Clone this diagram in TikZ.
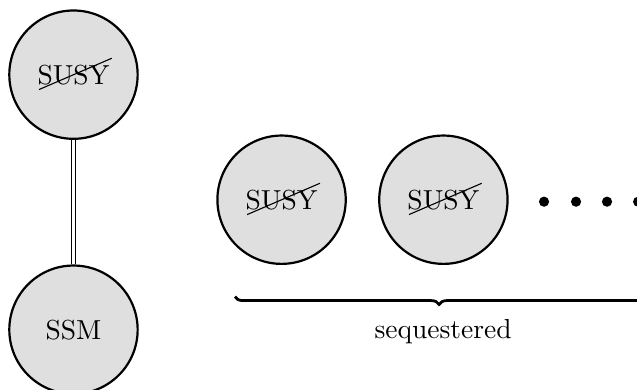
\documentclass[tikz,border=0pt]{standalone}
\usepackage{amsmath}
\usepackage{tikz}
\usetikzlibrary{positioning, calc, decorations.pathreplacing}

\tikzset{
    sector/.style={circle, draw, thick, fill=gray!25, minimum size=1.64cm, inner sep=0pt},
    slashline/.style={thin},
    dot/.style={circle, fill, inner sep=0pt, minimum size=0.13cm}
}

\begin{document}
\begin{tikzpicture}[node distance=0.4cm]
        \useasboundingbox (0,0) rectangle (8.14,4.98);

        % Nodes
        \node[sector] (top) at (0.939,4.026) {SUSY};
        \node[sector] (ssm) at (0.939,0.767) {SSM};
        \node[sector] (seqA) at (3.598,2.428) {SUSY};
        \node[sector, right=of seqA] (seqB) {SUSY};

        % broken susy slashes
        \foreach \n in {top, seqA, seqB}
            \draw[slashline] ($(\n.center)+(-0.44,-0.19)$) -- ($(\n.center)+(0.49,0.21)$);

        % dots
        \foreach \i/\x in {1/6.952, 2/7.361, 3/7.757, 4/8.154}
            \node[dot] (d\i) at (\x,2.403) {};

        \draw[double, double distance=1.2pt, line width=0.4pt] (top) -- (ssm);

        % brace
        \coordinate (bl) at (3.003,1.189);
        \coordinate (br) at (8.218,1.189);
        \draw[line width=1pt, decorate, decoration={brace, mirror, amplitude=0.1cm}] (bl) -- (br);
        \node (seqlabel) at (5.662,0.741) {sequestered};
    \end{tikzpicture}
\end{document}
